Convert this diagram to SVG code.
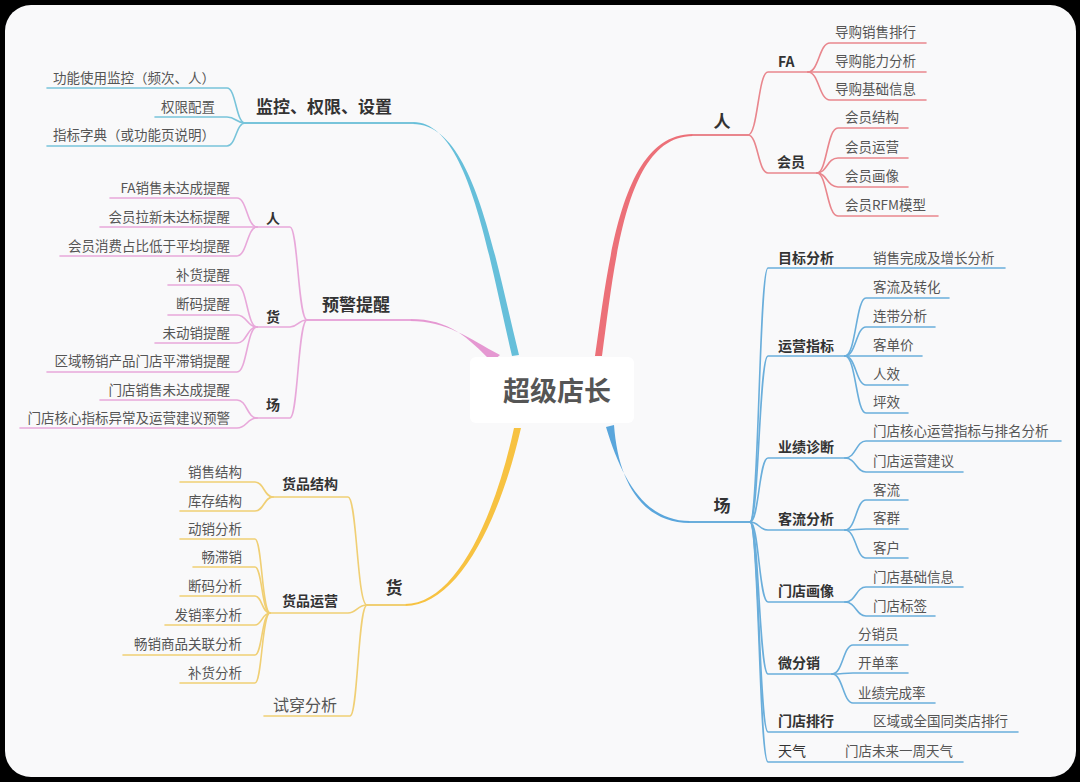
<svg xmlns="http://www.w3.org/2000/svg" width="1080" height="782" viewBox="0 0 1080 782">
<style>
text{font-family:"Noto Sans CJK SC","Noto Sans",sans-serif}
.c{font-size:27px;font-weight:bold;fill:#555}
.l1{font-size:17px;font-weight:bold;fill:#333}
.l2{font-size:14px;font-weight:bold;fill:#333}
.lf{font-size:13.5px;fill:#555}
.e{text-anchor:end}
.ln{fill:none;stroke-width:1.6;stroke-linecap:round}
.r{stroke:#e9868d}.b{stroke:#6aaedb}.cy{stroke:#78c4da}.p{stroke:#e8a8da}.y{stroke:#f0cf74}
.h{stroke-width:2}
</style>
<rect x="0" y="0" width="1080" height="782" fill="#000"/>
<rect x="5" y="5" width="1071" height="772" rx="26" fill="#f9f9fa"/>
<g id="connectors">
<path d="M595 356 C609 260 621 134 693 134 L693 136 C626 136 615 260 602 356 Z" fill="#ec7078"/>
<path d="M606 427 C622 480 645 521 690 521 L690 523 C641 523 618 480 614 425 Z" fill="#5aa6dc"/>
<path d="M512 356 C487 250 468 122 413 122 L413 124 C473 124 493 250 519 355 Z" fill="#66bfda"/>
<path d="M492 362 C468 338 450 319 410 319 L410 321 C447 321 468 338 500 355 Z" fill="#e598d2"/>
<path d="M514 428 C494 520 455 604 405 604 L405 606 C458 606 500 520 521 428 Z" fill="#f7c241"/>
<path class="ln r h" d="M693 135 H748"/>
<path class="ln r" d="M748 135 C758 135 758 72 768 72 H808"/>
<path class="ln r" d="M748 135 C758 135 758 173 768 173 H817"/>
<path class="ln r" d="M808 72 C819 72 819 43 830 43 H926"/>
<path class="ln r" d="M808 72 H926"/>
<path class="ln r" d="M808 72 C819 72 819 100 830 100 H926"/>
<path class="ln r" d="M817 173 C827 173 827 128 838 128 H908"/>
<path class="ln r" d="M817 173 C827 173 827 158 838 158 H908"/>
<path class="ln r" d="M817 173 C827 173 827 187 838 187 H908"/>
<path class="ln r" d="M817 173 C827 173 827 216 838 216 H938"/>
<path class="ln b h" d="M690 522 H750"/>
<path class="ln b" d="M750 522 C759 522 759 268 768 268 H1005"/>
<path class="ln b" d="M750 522 C759 522 759 356 768 356 H845"/>
<path class="ln b" d="M750 522 C759 522 759 458 768 458 H845"/>
<path class="ln b" d="M750 522 C759 522 759 530 768 530 H845"/>
<path class="ln b" d="M750 522 C759 522 759 602 768 602 H845"/>
<path class="ln b" d="M750 522 C759 522 759 674 768 674 H832"/>
<path class="ln b" d="M750 522 C759 522 759 732 768 732 H1018"/>
<path class="ln b" d="M750 522 C759 522 759 762 768 762 H963"/>
<path class="ln b" d="M845 356 C856 356 856 298 866 298 H949"/>
<path class="ln b" d="M845 356 C856 356 856 327 866 327 H935"/>
<path class="ln b" d="M845 356 H922"/>
<path class="ln b" d="M845 356 C856 356 856 385 866 385 H908"/>
<path class="ln b" d="M845 356 C856 356 856 413 866 413 H908"/>
<path class="ln b" d="M845 458 C856 458 856 441 866 441 H1061"/>
<path class="ln b" d="M845 458 C856 458 856 472 866 472 H963"/>
<path class="ln b" d="M845 530 C856 530 856 500 866 500 H908"/>
<path class="ln b" d="M845 530 C856 530 856 529 866 529 H908"/>
<path class="ln b" d="M845 530 C856 530 856 558 866 558 H908"/>
<path class="ln b" d="M845 602 C856 602 856 587 866 587 H963"/>
<path class="ln b" d="M845 602 C856 602 856 616 866 616 H935"/>
<path class="ln b" d="M832 674 C843 674 843 645 853 645 H908"/>
<path class="ln b" d="M832 674 C843 674 843 673 853 673 H908"/>
<path class="ln b" d="M832 674 C843 674 843 703 853 703 H935"/>
<path class="ln cy h" d="M413 123 H245"/>
<path class="ln cy" d="M245 123 C236 123 236 88 227 88 H47"/>
<path class="ln cy" d="M245 123 C236 123 236 117 227 117 H155"/>
<path class="ln cy" d="M245 123 C236 123 236 146 227 146 H47"/>
<path class="ln p h" d="M410 320 H307"/>
<path class="ln p" d="M307 320 C298 320 298 227 290 227 H257"/>
<path class="ln p" d="M307 320 C298 320 298 327 290 327 H257"/>
<path class="ln p" d="M307 320 C298 320 298 418 290 418 H257"/>
<path class="ln p" d="M257 227 C247 227 247 198 237 198 H110"/>
<path class="ln p" d="M257 227 H100"/>
<path class="ln p" d="M257 227 C247 227 247 256 237 256 H60"/>
<path class="ln p" d="M257 327 C247 327 247 285 237 285 H168"/>
<path class="ln p" d="M257 327 C247 327 247 315 237 315 H168"/>
<path class="ln p" d="M257 327 C247 327 247 343 237 343 H155"/>
<path class="ln p" d="M257 327 C247 327 247 372 237 372 H47"/>
<path class="ln p" d="M257 418 C247 418 247 400 237 400 H100"/>
<path class="ln p" d="M257 418 C247 418 247 428 237 428 H20"/>
<path class="ln y h" d="M405 605 H367"/>
<path class="ln y" d="M367 605 C357 605 357 497 348 497 H273"/>
<path class="ln y" d="M367 605 C357 605 357 613 348 613 H270"/>
<path class="ln y" d="M367 605 C358 605 358 716 350 716 H264"/>
<path class="ln y" d="M273 497 C264 497 264 482 255 482 H180"/>
<path class="ln y" d="M273 497 C264 497 264 511 255 511 H180"/>
<path class="ln y" d="M270 613 C262 613 262 539 255 539 H180"/>
<path class="ln y" d="M270 613 C262 613 262 567 255 567 H193"/>
<path class="ln y" d="M270 613 C262 613 262 596 255 596 H180"/>
<path class="ln y" d="M270 613 C262 613 262 625 255 625 H165"/>
<path class="ln y" d="M270 613 C262 613 262 655 255 655 H123"/>
<path class="ln y" d="M270 613 C262 613 262 683 255 683 H180"/>
</g>
<g id="root"><rect x="470" y="357" width="164" height="66" rx="6" fill="#fff"/><text class="c" x="557" y="401" text-anchor="middle">超级店长</text></g>
<g id="ren"><text class="l1" x="722" y="128" text-anchor="middle">人</text></g>
<g id="fa"><text class="l2" x="778" y="67">FA</text>
<text class="lf" x="835" y="37">导购销售排行</text><text class="lf" x="835" y="66">导购能力分析</text><text class="lf" x="835" y="94">导购基础信息</text></g>
<g id="huiyuan"><text class="l2" x="777" y="167">会员</text>
<text class="lf" x="845" y="122">会员结构</text><text class="lf" x="845" y="152">会员运营</text><text class="lf" x="845" y="181">会员画像</text><text class="lf" x="845" y="210">会员RFM模型</text></g>
<g id="chang"><text class="l1" x="722" y="512" text-anchor="middle">场</text></g>
<g id="mubiao"><text class="l2" x="778" y="263">目标分析</text><text class="lf" x="873" y="263">销售完成及增长分析</text></g>
<g id="yunying"><text class="l2" x="778" y="351">运营指标</text>
<text class="lf" x="873" y="292">客流及转化</text><text class="lf" x="873" y="321">连带分析</text><text class="lf" x="873" y="350">客单价</text><text class="lf" x="873" y="379">人效</text><text class="lf" x="873" y="407">坪效</text></g>
<g id="yeji"><text class="l2" x="778" y="452">业绩诊断</text>
<text class="lf" x="873" y="436">门店核心运营指标与排名分析</text><text class="lf" x="873" y="466">门店运营建议</text></g>
<g id="keliu"><text class="l2" x="778" y="524">客流分析</text>
<text class="lf" x="873" y="495">客流</text><text class="lf" x="873" y="523">客群</text><text class="lf" x="873" y="553">客户</text></g>
<g id="huaxiang"><text class="l2" x="778" y="596">门店画像</text>
<text class="lf" x="873" y="582">门店基础信息</text><text class="lf" x="873" y="611">门店标签</text></g>
<g id="weifenxiao"><text class="l2" x="778" y="668">微分销</text>
<text class="lf" x="858" y="639">分销员</text><text class="lf" x="858" y="668">开单率</text><text class="lf" x="858" y="698">业绩完成率</text></g>
<g id="paihang"><text class="l2" x="778" y="726">门店排行</text><text class="lf" x="873" y="726">区域或全国同类店排行</text></g>
<g id="tianqi"><text class="l2" x="778" y="756" style="font-weight:normal">天气</text><text class="lf" x="845" y="756">门店未来一周天气</text></g>
<g id="jiankong"><text class="l1" x="324" y="113" text-anchor="middle">监控、权限、设置</text>
<text class="lf e" x="215" y="83">功能使用监控（频次、人）</text><text class="lf e" x="215" y="112">权限配置</text><text class="lf e" x="215" y="140">指标字典（或功能页说明）</text></g>
<g id="yujing"><text class="l1" x="356" y="311" text-anchor="middle">预警提醒</text></g>
<g id="yj-ren"><text class="l2" x="273" y="223" text-anchor="middle">人</text>
<text class="lf e" x="230" y="193">FA销售未达成提醒</text><text class="lf e" x="230" y="222">会员拉新未达标提醒</text><text class="lf e" x="230" y="251">会员消费占比低于平均提醒</text></g>
<g id="yj-huo"><text class="l2" x="273" y="322" text-anchor="middle">货</text>
<text class="lf e" x="230" y="280">补货提醒</text><text class="lf e" x="230" y="309">断码提醒</text><text class="lf e" x="230" y="338">未动销提醒</text><text class="lf e" x="230" y="366">区域畅销产品门店平滞销提醒</text></g>
<g id="yj-chang"><text class="l2" x="273" y="410" text-anchor="middle">场</text>
<text class="lf e" x="230" y="395">门店销售未达成提醒</text><text class="lf e" x="230" y="423">门店核心指标异常及运营建议预警</text></g>
<g id="huo"><text class="l1" x="394" y="594" text-anchor="middle">货</text></g>
<g id="jiegou"><text class="l2" x="310" y="489" text-anchor="middle">货品结构</text>
<text class="lf e" x="242" y="477">销售结构</text><text class="lf e" x="242" y="506">库存结构</text></g>
<g id="huopinyunying"><text class="l2" x="310" y="606" text-anchor="middle">货品运营</text>
<text class="lf e" x="242" y="534">动销分析</text><text class="lf e" x="242" y="562">畅滞销</text><text class="lf e" x="242" y="591">断码分析</text><text class="lf e" x="242" y="620">发销率分析</text><text class="lf e" x="242" y="649">畅销商品关联分析</text><text class="lf e" x="242" y="678">补货分析</text></g>
<g id="shichuan"><text x="305" y="711" text-anchor="middle" style="font-size:16px;fill:#555">试穿分析</text></g>
</svg>
